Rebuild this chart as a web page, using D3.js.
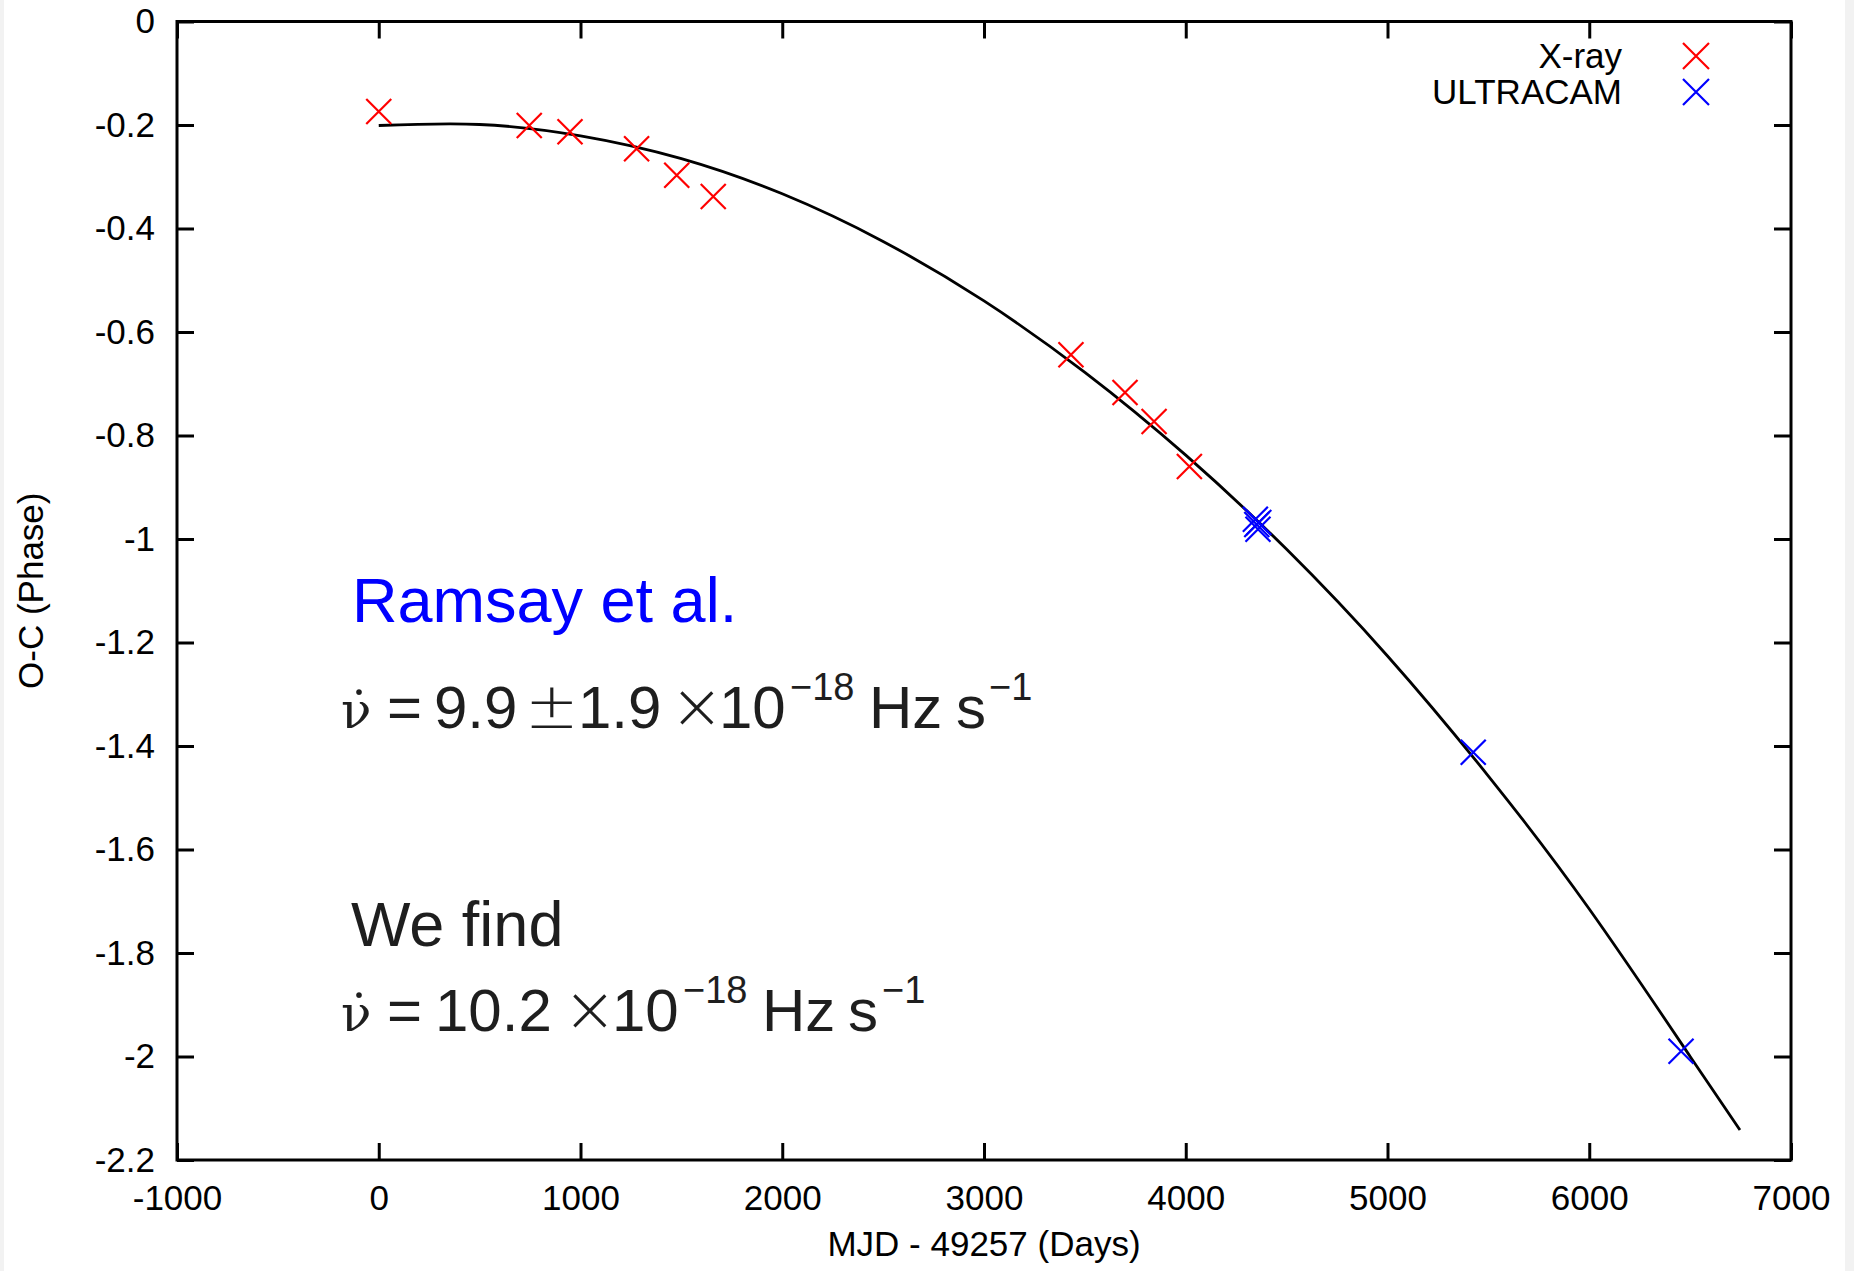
<!DOCTYPE html>
<html>
<head>
<meta charset="utf-8">
<script src="https://cdn.jsdelivr.net/npm/d3@7"></script>
<style>
  body { margin: 0; background: #f2f2f2; }
  svg { display: block; }
  text { font-family: "Liberation Sans", Arial, sans-serif; }
</style>
</head>
<body>
<svg width="1854" height="1271"></svg>
<script>
// measured points
var xrayDays = [0, 746, 948, 1278, 1477, 1658, 3431, 3699, 3843, 4018];
var xrayPhase = [-0.174, -0.201, -0.213, -0.246, -0.297, -0.338, -0.644, -0.717, -0.773, -0.860];

var ultracamDays = [4345, 4352, 4358, 4362, 5425, 6455];
var ultracamPhase = [-0.962, -0.972, -0.981, -0.968, -1.412, -1.990];

// fitted curve, every 500 days
var fitDays = [0, 500, 1000, 1500, 2000, 2500, 3000, 3500, 4000, 4500, 5000, 5500, 6000, 6500, 6747];
var fitPhase = [-0.201, -0.199, -0.221, -0.265, -0.333, -0.425, -0.540, -0.678, -0.838, -1.020, -1.226, -1.458, -1.715, -2.000, -2.142];

var xTicks = [-1000, 0, 1000, 2000, 3000, 4000, 5000, 6000, 7000];
var yTicks = [0, -0.2, -0.4, -0.6, -0.8, -1, -1.2, -1.4, -1.6, -1.8, -2, -2.2];

var seriesNames = ["X-ray", "ULTRACAM"];
var seriesColors = ["#ff0000", "#0000ff"];

var svg = d3.select("svg"),
    margin = {top: 21.5, right: 63, bottom: 111, left: 177},
    width = +svg.attr("width") - margin.left - margin.right,
    height = +svg.attr("height") - margin.top - margin.bottom;

// white page with thin grey edges
svg.append("rect").attr("x", 4).attr("y", 0).attr("width", 1841).attr("height", 1271).attr("fill", "#fff");

var g = svg.append("g").attr("transform", "translate(" + margin.left + "," + margin.top + ")");

var x = d3.scaleLinear().domain([-1000, 7000]).range([0, width]);
var y = d3.scaleLinear().domain([0, -2.2]).range([0, height]);

// gnuplot style: plain hyphen for negatives
var fmtX = function(d) { return String(d); };
var fmtY = function(d) { return String(+d.toFixed(1)); };

function styleAxis(sel) {
    sel.select(".domain").remove();
    sel.selectAll(".tick line").attr("stroke", "#000").attr("stroke-width", 3);
    sel.selectAll(".tick text").attr("fill", "#000").style("font-size", "35px")
        .style("font-family", "'Liberation Sans', Arial, sans-serif");
}

g.append("g")
    .attr("transform", "translate(0," + height + ")")
    .call(d3.axisBottom(x).tickValues(xTicks).tickFormat(fmtX).tickSize(-17).tickPadding(25))
    .call(styleAxis);

g.append("g")
    .call(d3.axisTop(x).tickValues(xTicks).tickFormat("").tickSize(-17))
    .call(styleAxis);

g.append("g")
    .call(d3.axisLeft(y).tickValues(yTicks).tickFormat(fmtY).tickSize(-17).tickPadding(22))
    .call(styleAxis);

g.append("g")
    .attr("transform", "translate(" + width + ",0)")
    .call(d3.axisRight(y).tickValues(yTicks).tickFormat("").tickSize(-17))
    .call(styleAxis);

// frame
g.append("rect")
    .attr("width", width).attr("height", height)
    .attr("fill", "none").attr("stroke", "#000").attr("stroke-width", 3);

// fit line
var fitData = fitDays.map(function(d, i) { return {day: d, phase: fitPhase[i]}; });
var line = d3.line()
    .x(function(d) { return x(d.day); })
    .y(function(d) { return y(d.phase); })
    .curve(d3.curveNatural);

g.append("path")
    .datum(fitData)
    .attr("fill", "none")
    .attr("stroke", "#000")
    .attr("stroke-width", 2.8)
    .attr("d", line);

// cross markers
function cross(sel, r) {
    sel.append("path").attr("d", "M" + (-r) + "," + (-r) + "L" + r + "," + r + "M" + (-r) + "," + r + "L" + r + "," + (-r));
}

var series = [
    {days: xrayDays, phase: xrayPhase},
    {days: ultracamDays, phase: ultracamPhase}
];

series.forEach(function(s, k) {
    var pts = s.days.map(function(d, i) { return {day: d, phase: s.phase[i]}; });
    g.append("g")
        .attr("stroke", seriesColors[k]).attr("stroke-width", 2.2).attr("fill", "none")
        .selectAll("g").data(pts).enter().append("g")
        .attr("transform", function(d) { return "translate(" + x(d.day) + "," + y(d.phase) + ")"; })
        .call(cross, 12.5);
});

// legend
var legend = svg.append("g");
seriesNames.forEach(function(name, k) {
    var cy = 56 + k * 36;
    legend.append("text")
        .attr("x", 1622).attr("y", cy + 12)
        .attr("text-anchor", "end")
        .style("font-size", "35px")
        .text(name);
    legend.append("g")
        .attr("transform", "translate(1696," + cy + ")")
        .attr("stroke", seriesColors[k]).attr("stroke-width", 2.2).attr("fill", "none")
        .call(cross, 13);
});

// axis titles
svg.append("text")
    .attr("x", margin.left + width / 2).attr("y", 1256)
    .attr("text-anchor", "middle")
    .style("font-size", "35px")
    .text("MJD - 49257 (Days)");

svg.append("text")
    .attr("transform", "translate(43," + (margin.top + height / 2) + ") rotate(-90)")
    .attr("text-anchor", "middle")
    .style("font-size", "35px")
    .text("O-C (Phase)");

// annotations
svg.append("text")
    .attr("x", 352).attr("y", 622)
    .attr("fill", "#0000ff")
    .style("font-size", "63px")
    .text("Ramsay et al.");

svg.append("text")
    .attr("x", 351).attr("y", 946)
    .attr("fill", "#1e1e1e")
    .style("font-size", "63px")
    .text("We find");

var eq1 = [["\u03bd\u0307", 0, "nu"], ["=", 46], ["9.9", 93], ["\u00b1", 184, "op"], ["1.9", 237], ["\u00d7", 329, "op"], ["10", 378],
           ["\u221218", 449, "sup"], ["Hz", 528], ["s", 615], ["\u22121", 648, "sup"]];
var eq2 = [["\u03bd\u0307", 0, "nu"], ["=", 46], ["10.2", 94], ["\u00d7", 222, "op"], ["10", 271],
           ["\u221218", 342, "sup"], ["Hz", 421], ["s", 507], ["\u22121", 541, "sup"]];

function equation(parts, x0, y0) {
    var eg = svg.append("g").attr("fill", "#1e1e1e");
    parts.forEach(function(p) {
        var t = eg.append("text")
            .attr("x", x0 + p[1])
            .attr("y", p[2] === "sup" ? y0 - 28 : y0)
            .style("font-size", p[2] === "sup" ? "38px" : "60px")
            .text(p[0]);
        // nu with the time-derivative dot as one combined glyph
        if (p[2] === "nu") t.style("font-family", "'DejaVu Serif', serif").style("font-size", "50px");
        if (p[2] === "op") t.style("font-family", "'DejaVu Sans', sans-serif").style("font-weight", 200).style("font-size", "64px");
    });
}
equation(eq1, 341, 728);
equation(eq2, 341, 1031);
</script>
</body>
</html>
